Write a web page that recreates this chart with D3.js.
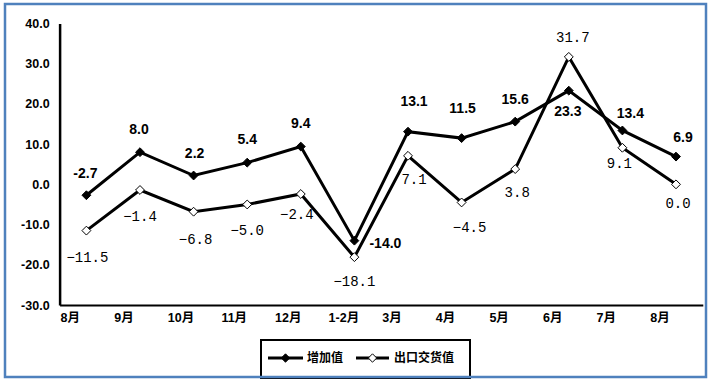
<!DOCTYPE html>
<html>
<head>
<meta charset="utf-8">
<script src="https://cdn.jsdelivr.net/npm/d3@7"></script>
<style>
  body { margin: 0; background: #fff; }
  svg { display: block; }
</style>
</head>
<body>
<svg width="711" height="384"></svg>
<script>
var months = ["8月", "9月", "10月", "11月", "12月", "1-2月", "3月", "4月", "5月", "6月", "7月", "8月"];
var valueAdded = [-2.7, 8.0, 2.2, 5.4, 9.4, -14.0, 13.1, 11.5, 15.6, 23.3, 13.4, 6.9];
var exportValue = [-11.5, -1.4, -6.8, -5.0, -2.4, -18.1, 7.1, -4.5, 3.8, 31.7, 9.1, 0.0];
var yTicks = [-30, -20, -10, 0, 10, 20, 30, 40];
var seriesNames = ["增加值", "出口交货值"];

// label nudges [dx, dy] from each point (layout only)
var addedLabelPos = [[-1,-22],[-1,-23],[1,-22],[0,-24],[0,-23],[31,2],[6,-31],[1,-30],[0,-23],[-1,20],[8,-17],[7,-20]];
var exportLabelPos = [[1,26],[0,26],[2,27],[0,26],[-4,20],[0,24],[6,23],[8,25],[2,23],[4,-20],[-3,15],[2,19]];

var svg = d3.select("svg"),
    width = +svg.attr("width"),
    height = +svg.attr("height");

var plotL = 59.6, plotR = 702.8, plotT = 23.5, plotB = 305;

var x = d3.scaleBand().domain(d3.range(months.length)).range([plotL, plotR]);
var y = d3.scaleLinear().domain([-30, 40]).range([plotB, plotT]);

var fmtAxis = d3.formatLocale({decimal: ".", thousands: ",", grouping: [3], currency: ["", ""], minus: "-"}).format(".1f");
var fmtMinus = d3.format(".1f"); // uses the long minus sign

// y axis
var gy = svg.append("g")
    .attr("transform", "translate(" + plotL + ",0)")
    .call(d3.axisLeft(y).tickValues(yTicks).tickSize(0).tickPadding(10).tickFormat(fmtAxis));
gy.select(".domain").attr("stroke", "#000").attr("stroke-width", 2.5);
gy.selectAll("text")
    .attr("fill", "#000")
    .style("font", "bold 12.5px 'Liberation Sans', Arial, sans-serif");

// x axis, labels sit at the left of each band
var gx = svg.append("g")
    .attr("transform", "translate(0," + plotB + ")")
    .call(d3.axisBottom(x).tickSize(0).tickPadding(0).tickFormat(function (i) { return months[i]; }));
gx.select(".domain").attr("stroke", "#000").attr("stroke-width", 2);
gx.selectAll("text")
    .attr("fill", "#000")
    .attr("text-anchor", "start")
    .attr("x", -x.bandwidth() / 2 + 1)
    .attr("y", 13)
    .attr("dy", "0.35em")
    .style("font", "bold 12.5px 'Liberation Sans', 'Noto Sans CJK SC', sans-serif");

var line = d3.line()
    .x(function (d, i) { return x(i) + x.bandwidth() / 2; })
    .y(function (d) { return y(d); });

var diamond = d3.symbol().type(d3.symbolDiamond2).size(50);

function drawSeries(data, filled) {
  var g = svg.append("g");
  g.append("path")
      .datum(data)
      .attr("fill", "none")
      .attr("stroke", "#000")
      .attr("stroke-width", 3)
      .attr("d", line);
  g.selectAll("path.pt")
    .data(data)
    .enter().append("path")
      .attr("class", "pt")
      .attr("transform", function (d, i) { return "translate(" + (x(i) + x.bandwidth() / 2) + "," + y(d) + ")"; })
      .attr("d", diamond)
      .attr("fill", filled ? "#000" : "#fff")
      .attr("stroke", "#000")
      .attr("stroke-width", 1);
  return g;
}

drawSeries(valueAdded, true);
drawSeries(exportValue, false);

svg.append("g").selectAll("text")
  .data(valueAdded)
  .enter().append("text")
    .attr("x", function (d, i) { return x(i) + x.bandwidth() / 2 + addedLabelPos[i][0]; })
    .attr("y", function (d, i) { return y(d) + addedLabelPos[i][1]; })
    .attr("dy", "0.35em")
    .attr("text-anchor", "middle")
    .style("font", "bold 14px 'Liberation Sans', Arial, sans-serif")
    .text(function (d) { return fmtAxis(d); });

svg.append("g").selectAll("text")
  .data(exportValue)
  .enter().append("text")
    .attr("x", function (d, i) { return x(i) + x.bandwidth() / 2 + exportLabelPos[i][0]; })
    .attr("y", function (d, i) { return y(d) + exportLabelPos[i][1]; })
    .attr("dy", "0.35em")
    .attr("text-anchor", "middle")
    .style("font", "14px 'Liberation Mono', 'DejaVu Sans Mono', monospace")
    .text(function (d) { return fmtMinus(d); });

// legend
var lg = svg.append("g");
lg.append("rect")
    .attr("x", 261).attr("y", 340).attr("width", 209).attr("height", 38)
    .attr("fill", "#fff").attr("stroke", "#000").attr("stroke-width", 2);

var legendItems = [
  {x0: 268, x1: 303, tx: 307, filled: true},
  {x0: 356, x1: 389, tx: 394, filled: false}
];
legendItems.forEach(function (it, k) {
  lg.append("line")
      .attr("x1", it.x0).attr("x2", it.x1).attr("y1", 358).attr("y2", 358)
      .attr("stroke", "#000").attr("stroke-width", 3);
  lg.append("path")
      .attr("transform", "translate(" + ((it.x0 + it.x1) / 2) + ",358)")
      .attr("d", d3.symbol().type(d3.symbolDiamond2).size(45))
      .attr("fill", it.filled ? "#000" : "#fff")
      .attr("stroke", "#000").attr("stroke-width", 1);
  lg.append("text")
      .attr("x", it.tx).attr("y", 358).attr("dy", "0.35em")
      .style("font", "bold 12px 'Noto Sans CJK SC', sans-serif")
      .text(seriesNames[k]);
});

// outer border
svg.append("rect")
    .attr("x", 5).attr("y", 4).attr("width", 701).attr("height", 373)
    .attr("fill", "none").attr("stroke", "#4f81bd").attr("stroke-width", 2.5);
</script>
</body>
</html>
